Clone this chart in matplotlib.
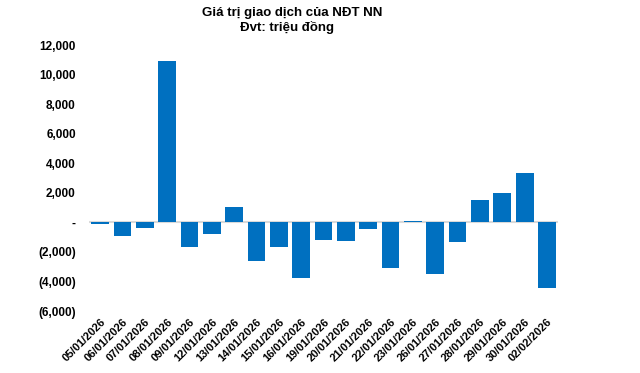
import matplotlib.pyplot as plt
from matplotlib.ticker import FuncFormatter

plt.rcParams['font.family'] = ['Liberation Sans', 'DejaVu Sans']

dates = ["05/01/2026", "06/01/2026", "07/01/2026", "08/01/2026", "09/01/2026",
         "12/01/2026", "13/01/2026", "14/01/2026", "15/01/2026", "16/01/2026",
         "19/01/2026", "20/01/2026", "21/01/2026", "22/01/2026", "23/01/2026",
         "26/01/2026", "27/01/2026", "28/01/2026", "29/01/2026", "30/01/2026",
         "02/02/2026"]
values = [-100, -900, -370, 10900, -1650, -770, 1040, -2600, -1650, -3750,
          -1180, -1250, -430, -3070, 100, -3480, -1310, 1510, 1980, 3340, -4430]
yticks = [-6000, -4000, -2000, 0, 2000, 4000, 6000, 8000, 10000, 12000]


def fmt(v, pos):
    if v == 0:
        return "-"
    if v < 0:
        return "({:,.0f})".format(-v)
    return "{:,.0f}".format(v)


fig = plt.figure(figsize=(6.4, 3.73), dpi=100)
ax = fig.add_axes([0.139, 0.166, 0.733, 0.713])

x = range(len(dates))
ax.bar(x, values, width=0.8, color='#0070C0', zorder=2)
ax.axhline(0, color='#d9d9d9', lw=1.5, zorder=1)

ax.set_xlim(-0.5, len(dates) - 0.5)
ax.set_ylim(-6000, 12000)
ax.set_yticks(yticks)
ax.yaxis.set_major_formatter(FuncFormatter(fmt))
ax.set_xticks(list(x))
ax.set_xticklabels(dates, rotation=45, ha='right', rotation_mode='anchor')

for s in ax.spines.values():
    s.set_visible(False)
ax.tick_params(axis='both', length=0)
ax.tick_params(axis='y', pad=9.5, labelsize=8.5)
ax.tick_params(axis='x', pad=4, labelsize=8)
for lab in ax.get_xticklabels() + ax.get_yticklabels():
    lab.set_fontweight('bold')

fig.text(0.456, 0.965, "Giá trị giao dịch của NĐT NN", ha='center', va='center',
         fontsize=9.5, fontweight='bold')
fig.text(0.449, 0.925, "Đvt: triệu đồng", ha='center', va='center',
         fontsize=9.5, fontweight='bold')

fig.savefig('out.png', dpi=100)
